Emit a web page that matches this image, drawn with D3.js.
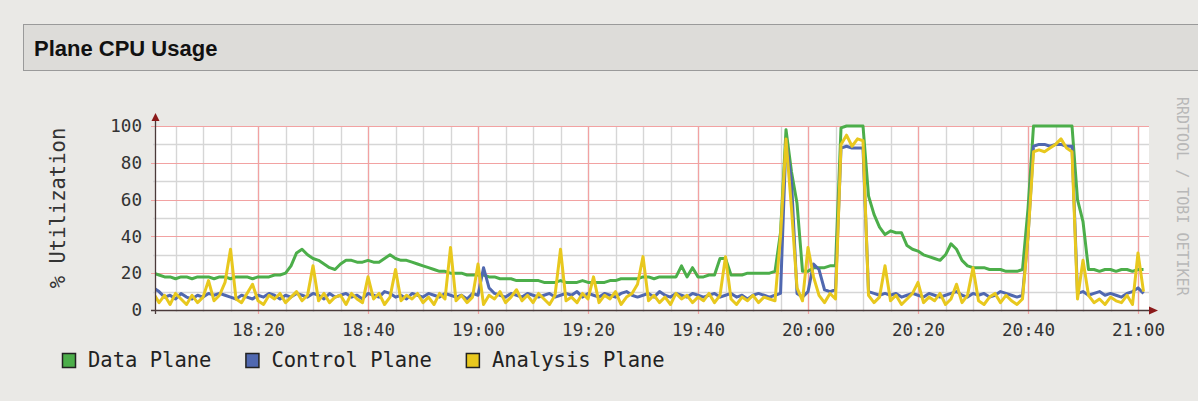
<!DOCTYPE html>
<html>
<head>
<meta charset="utf-8">
<script src="https://cdn.jsdelivr.net/npm/d3@7"></script>
<style>
  html, body { margin: 0; padding: 0; background: #eae9e6; }
  svg { display: block; }
</style>
</head>
<body>
<script>
// one sample per minute, starting 18:01
var startTime = new Date(2020, 0, 1, 18, 1, 0);
var stepMinutes = 1;

var seriesNames = ["Data Plane", "Control Plane", "Analysis Plane"];
var seriesColors = ["#4cae4a", "#5068b0", "#e8c81e"];

var dataPlane = [
  20, 19, 18, 18, 17, 18, 18, 17, 18, 18,
  18, 17, 18, 18, 17, 18, 18, 18, 17, 18,
  18, 18, 19, 19, 20, 24, 31, 33, 30, 28,
  27, 25, 23, 22, 25, 27, 27, 26, 26, 27,
  26, 26, 28, 30, 28, 27, 27, 26, 25, 24,
  23, 22, 21, 21, 20, 20, 20, 19, 19, 19,
  19, 18, 18, 17, 17, 17, 16, 16, 16, 16,
  16, 15, 15, 15, 16, 15, 15, 15, 16, 15,
  15, 15, 15, 16, 16, 17, 17, 17, 17, 18,
  18, 17, 18, 18, 18, 18, 24, 18, 23, 18,
  18, 19, 19, 28, 28, 19, 19, 19, 20, 20,
  20, 20, 20, 21, 42, 98, 75, 58, 21, 21,
  23, 23, 23, 24, 24, 99, 100, 100, 100, 100,
  62, 52, 45, 41, 43, 42, 42, 35, 33, 32,
  30, 29, 28, 27, 30, 36, 33, 27, 24, 23,
  23, 23, 22, 22, 22, 21, 21, 21, 22, 55,
  100, 100, 100, 100, 100, 100, 100, 100, 60, 48,
  22, 22, 21, 22, 22, 21, 22, 22, 21, 22, 22
];

var controlPlane = [
  12, 10, 7, 8, 6, 9, 7, 6, 8, 7,
  9, 8, 9, 8, 7, 6, 8, 7, 6, 8,
  7, 9, 8, 6, 8, 7, 9, 8, 7, 9,
  8, 6, 9, 7, 8, 9, 7, 8, 6, 9,
  8, 7, 10, 9, 7, 8, 6, 9, 8, 7,
  9, 8, 7, 9, 8, 7, 8, 6, 9, 8,
  23, 12, 9, 8, 7, 9, 8, 7, 9, 8,
  7, 8, 9, 7, 8, 9, 8, 10, 7, 9,
  8, 7, 9, 8, 7, 9, 10, 8, 7, 8,
  9, 7, 10, 8, 7, 9, 8, 7, 9, 8,
  7, 8, 9, 7, 8, 9, 7, 8, 6, 8,
  9, 8, 7, 8, 9, 92, 70, 9, 7, 10,
  25, 22, 11, 10, 11, 88, 89, 88, 88, 88,
  10, 9, 8, 9, 8, 9, 7, 8, 9, 8,
  7, 9, 8, 7, 8, 9, 10, 8, 7, 9,
  8, 9, 7, 8, 10, 9, 8, 7, 8, 40,
  89, 90, 90, 89, 90, 90, 89, 89, 9, 10,
  8, 9, 10, 8, 9, 8, 7, 9, 10, 12, 9
];

var analysisPlane = [
  9, 4, 8, 3, 9, 6, 3, 8, 4, 7,
  16, 5, 8, 15, 33, 6, 4, 9, 14, 5,
  3, 8, 6, 9, 4, 7, 10, 5, 8, 24,
  5, 9, 4, 7, 8, 3, 9, 6, 4, 18,
  6, 9, 3, 7, 22, 5, 8, 6, 9, 4,
  7, 3, 9, 6, 34, 5, 8, 4, 7, 25,
  3, 8, 6, 10, 4, 7, 11, 5, 8, 4,
  9, 6, 3, 8, 33, 5, 7, 4, 9, 6,
  18, 4, 8, 6, 10, 3, 7, 9, 14, 29,
  5, 8, 4, 7, 3, 9, 6, 8, 4, 7,
  5, 9, 4, 8, 29, 6, 3, 7, 5, 8,
  4, 7, 6, 5, 40, 93, 55, 12, 5, 34,
  18, 8, 4, 9, 6, 90, 95, 89, 93, 92,
  8, 4, 7, 24, 5, 8, 3, 6, 9, 15,
  4, 7, 5, 9, 3, 6, 14, 4, 8, 23,
  5, 3, 7, 9, 4, 8, 5, 3, 6, 40,
  86, 87, 86, 88, 90, 93, 88, 86, 6, 27,
  8, 4, 6, 3, 7, 5, 4, 8, 3, 31, 10
];

var yTicks = [0, 20, 40, 60, 80, 100];

var width = 1198, height = 401;
var plotLeft = 155, plotRight = 1149, plotTop = 126, plotBottom = 310;
var monoFont = "'DejaVu Sans Mono', monospace";

var svg = d3.select("body")
  .append("svg")
  .attr("width", width)
  .attr("height", height);

svg.append("rect")
  .attr("width", width).attr("height", height)
  .attr("fill", "#eae9e6");

// title bar
svg.append("rect")
  .attr("x", 23.5).attr("y", 24.5)
  .attr("width", 1190).attr("height", 46)
  .attr("fill", "#dddcd9")
  .attr("stroke", "#9a9a9a");

svg.append("text")
  .attr("x", 34).attr("y", 56)
  .attr("font-family", "'Liberation Sans', Arial, sans-serif")
  .attr("font-weight", "bold")
  .attr("font-size", 22)
  .attr("fill", "#111")
  .text("Plane CPU Usage");

var xStart = new Date(2020, 0, 1, 18, 1, 16);
var xEnd = new Date(2020, 0, 1, 21, 2, 0);
var x = d3.scaleTime().domain([xStart, xEnd]).range([plotLeft, plotRight]);
var y = d3.scaleLinear().domain([0, 100]).range([plotBottom, plotTop]);

svg.append("rect")
  .attr("x", plotLeft).attr("y", plotTop)
  .attr("width", plotRight - plotLeft).attr("height", plotBottom - plotTop)
  .attr("fill", "#fff");

// grid
var grid = svg.append("g");
var minorX = d3.timeMinute.every(5).range(xStart, xEnd);
var majorX = d3.timeMinute.every(20).range(xStart, xEnd);
var minorY = d3.range(10, 101, 20);

grid.selectAll(".vminor").data(minorX).enter().append("line")
  .attr("x1", d => Math.round(x(d)) + 0.5).attr("x2", d => Math.round(x(d)) + 0.5)
  .attr("y1", plotTop).attr("y2", plotBottom + 2)
  .attr("stroke", "#d6d6d6").attr("stroke-width", 1.4);

grid.selectAll(".hminor").data(minorY).enter().append("line")
  .attr("x1", plotLeft - 2).attr("x2", plotRight)
  .attr("y1", d => Math.round(y(d)) + 0.5).attr("y2", d => Math.round(y(d)) + 0.5)
  .attr("stroke", "#d6d6d6").attr("stroke-width", 1.4);

grid.selectAll(".vmajor").data(majorX).enter().append("line")
  .attr("x1", d => Math.round(x(d)) + 0.5).attr("x2", d => Math.round(x(d)) + 0.5)
  .attr("y1", plotTop).attr("y2", plotBottom + 4)
  .attr("stroke", "#f2a2a2").attr("stroke-width", 1.2);

grid.selectAll(".hmajor").data(yTicks.filter(d => d > 0)).enter().append("line")
  .attr("x1", plotLeft - 4).attr("x2", plotRight)
  .attr("y1", d => Math.round(y(d)) + 0.5).attr("y2", d => Math.round(y(d)) + 0.5)
  .attr("stroke", "#f2a2a2").attr("stroke-width", 1.2);

// series
svg.append("clipPath").attr("id", "plotclip")
  .append("rect")
  .attr("x", plotLeft).attr("y", plotTop - 4)
  .attr("width", plotRight - plotLeft).attr("height", plotBottom - plotTop + 4);

var allSeries = [dataPlane, controlPlane, analysisPlane];
var timeAt = i => d3.timeMinute.offset(startTime, i * stepMinutes);

var line = d3.line()
  .x((d, i) => x(timeAt(i)))
  .y(d => y(d));

svg.append("g").attr("clip-path", "url(#plotclip)")
  .selectAll("path")
  .data(allSeries)
  .enter()
  .append("path")
  .attr("d", line)
  .attr("fill", "none")
  .attr("stroke", (d, i) => seriesColors[i])
  .attr("stroke-width", 3)
  .attr("stroke-linejoin", "round");

// axes labels
var yAxis = svg.append("g")
  .attr("transform", "translate(" + plotLeft + ",0)")
  .call(d3.axisLeft(y).tickValues(yTicks).tickSize(0).tickPadding(13));

var xAxis = svg.append("g")
  .attr("transform", "translate(0," + plotBottom + ")")
  .call(d3.axisBottom(x).tickValues(majorX).tickSize(0).tickPadding(14)
    .tickFormat(d3.timeFormat("%H:%M")));

[yAxis, xAxis].forEach(function (a) {
  a.select(".domain").remove();
  a.selectAll("text")
    .attr("font-family", monoFont)
    .attr("font-size", 17.6)
    .attr("fill", "#333");
});

// axis lines and arrows
svg.append("line")
  .attr("x1", plotLeft + 0.5).attr("x2", plotLeft + 0.5)
  .attr("y1", plotBottom + 4).attr("y2", 119)
  .attr("stroke", "#4a3a3a").attr("stroke-width", 1.3);
svg.append("line")
  .attr("x1", plotLeft - 4).attr("x2", 1151)
  .attr("y1", plotBottom + 0.5).attr("y2", plotBottom + 0.5)
  .attr("stroke", "#4a3a3a").attr("stroke-width", 1.3);
svg.append("path")
  .attr("d", "M" + (plotLeft - 3.5) + ",121L" + (plotLeft + 0.5) + ",113L" + (plotLeft + 4.5) + ",121Z")
  .attr("fill", "#8b1a1a");
svg.append("path")
  .attr("d", "M1149," + (plotBottom - 3.5) + "L1158," + (plotBottom + 0.5) + "L1149," + (plotBottom + 4.5) + "Z")
  .attr("fill", "#8b1a1a");

// unit label
svg.append("text")
  .attr("transform", "translate(65,208) rotate(-90)")
  .attr("text-anchor", "middle")
  .attr("font-family", monoFont)
  .attr("font-size", 20.5)
  .attr("fill", "#333")
  .text("% Utilization");

// watermark
svg.append("text")
  .attr("transform", "translate(1177,97) rotate(90)")
  .attr("font-family", monoFont)
  .attr("font-size", 15)
  .attr("fill", "#b8b8b8")
  .text("RRDTOOL / TOBI OETIKER");

// legend
var lx = 62;
seriesNames.forEach(function (name, i) {
  svg.append("rect")
    .attr("x", lx + 0.5).attr("y", 353.5)
    .attr("width", 13).attr("height", 14)
    .attr("fill", seriesColors[i])
    .attr("stroke", "#222").attr("stroke-width", 1.5);
  var t = svg.append("text")
    .attr("x", lx + 26).attr("y", 367)
    .attr("font-family", monoFont)
    .attr("font-size", 20.5)
    .attr("fill", "#222")
    .text(name);
  lx = lx + 26 + t.node().getComputedTextLength() + 34;
});
</script>
</body>
</html>
